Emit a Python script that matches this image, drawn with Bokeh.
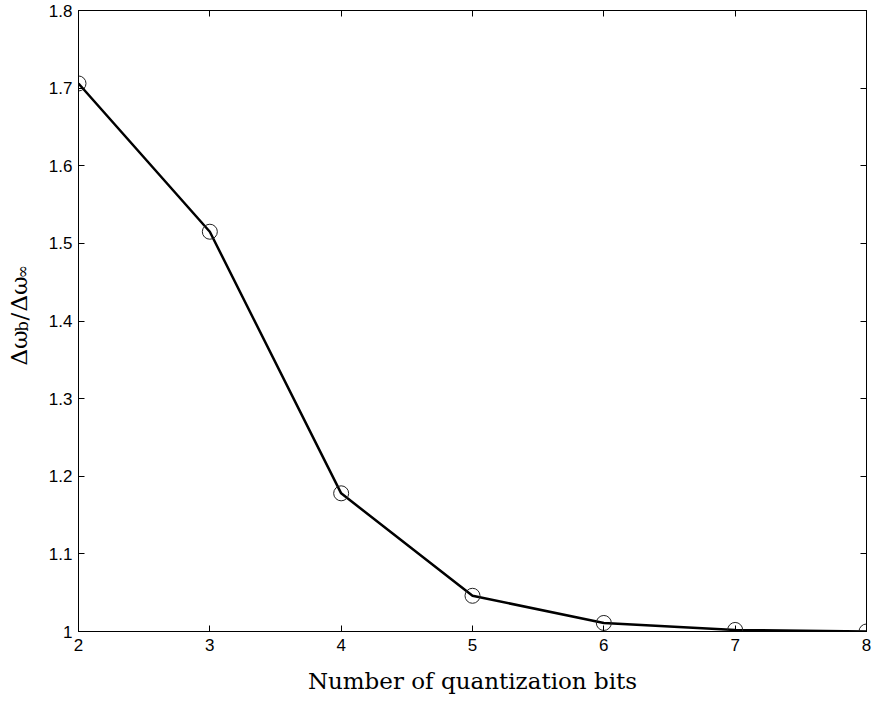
import math

from bokeh.core.properties import value
from bokeh.embed import file_html
from bokeh.layouts import row
from bokeh.models import (ColumnDataSource, CustomJSTickFormatter, FixedTicker,
                          LinearAxis, Range1d)
from bokeh.plotting import figure
from bokeh.resources import INLINE

# Relative bandwidth versus number of quantization bits
bits = [2, 3, 4, 5, 6, 7, 8]
ratio = [1.706, 1.515, 1.178, 1.046, 1.011, 1.002, 1.0]

x_ticks = [2, 3, 4, 5, 6, 7, 8]
y_ticks = [1.0, 1.1, 1.2, 1.3, 1.4, 1.5, 1.6, 1.7, 1.8]

TICK_FONT = "Liberation Sans"
LABEL_FONT = "DejaVu Serif"

LABEL_W = 40
W, H = 872, 704
TOP, BOTTOM = 10, 73

source = ColumnDataSource(data=dict(bits=bits, ratio=ratio))
y_range = Range1d(1.0, 1.8)

p = figure(
    width=W - LABEL_W, height=H,
    x_range=Range1d(2, 8), y_range=y_range,
    output_backend="svg", toolbar_location=None,
    min_border_left=38, min_border_right=6,
    min_border_top=TOP, min_border_bottom=BOTTOM,
    x_axis_location=None, y_axis_location=None,
)
p.grid.visible = False
p.outline_line_color = "black"
p.outline_line_width = 1
p.background_fill_color = "white"
p.border_fill_color = "white"

y_fmt = CustomJSTickFormatter(code="return tick.toFixed(1).replace(/\\.0$/, '');")
blank = CustomJSTickFormatter(code="return '';")


def style_axis(ax, labels=True):
    ax.axis_line_color = "black"
    ax.axis_line_width = 1
    ax.major_tick_in = 6
    ax.major_tick_out = 0
    ax.minor_tick_line_color = None
    ax.major_tick_line_color = "black"
    ax.major_label_text_font = TICK_FONT
    ax.major_label_text_font_size = "17px"
    ax.major_label_text_color = "black"
    if not labels:
        ax.major_label_standoff = 0


bottom = LinearAxis(ticker=FixedTicker(ticks=x_ticks))
style_axis(bottom)
bottom.major_label_standoff = 7
bottom.axis_label = "Number of quantization bits"
bottom.axis_label_text_font = LABEL_FONT
bottom.axis_label_text_font_style = "normal"
bottom.axis_label_text_font_size = "23px"
bottom.axis_label_text_color = "black"
bottom.axis_label_standoff = 14
p.add_layout(bottom, "below")

left = LinearAxis(ticker=FixedTicker(ticks=y_ticks), formatter=y_fmt)
style_axis(left)
left.major_label_standoff = 6
p.add_layout(left, "left")

top = LinearAxis(ticker=FixedTicker(ticks=x_ticks), formatter=blank)
style_axis(top, labels=False)
p.add_layout(top, "above")

right = LinearAxis(ticker=FixedTicker(ticks=y_ticks), formatter=blank)
style_axis(right, labels=False)
p.add_layout(right, "right")

p.line("bits", "ratio", source=source, line_color="black", line_width=2.5)
p.scatter("bits", "ratio", source=source, marker="circle", size=15,
          fill_color=None, line_color="#222222", line_width=1)

# Narrow strip holding the rotated y label  Δω_b / Δω_∞ ; it shares the
# vertical range of the plot so the pieces line up with the frame
lab = figure(
    width=LABEL_W, height=H, title=None,
    x_range=Range1d(0, LABEL_W), y_range=y_range,
    output_backend="svg", toolbar_location=None,
    min_border_left=0, min_border_right=0,
    min_border_top=TOP, min_border_bottom=BOTTOM,
    x_axis_location=None, y_axis_location=None,
)
lab.grid.visible = False
lab.outline_line_color = None
lab.background_fill_color = "white"
lab.border_fill_color = "white"

frame_h = H - TOP - BOTTOM


def screen_to_y(py):
    return 1.8 - (py - TOP) * 0.8 / frame_h


# (text, x anchor, start position from top, font size)
pieces = [
    ("Δω", 18, 365, "23px"),
    ("b", 22, 331, "16px"),
    ("/", 18, 320, "23px"),
    ("Δω", 18, 311, "23px"),
    ("∞", 22, 278, "16px"),
]
for txt, bx, start, size in pieces:
    lab.text(x=[bx], y=[screen_to_y(start)], text=[txt], angle=math.pi / 2,
             text_align="left", text_baseline="alphabetic",
             text_font=value(LABEL_FONT), text_font_size=value(size),
             text_color="black")

layout = row(lab, p, spacing=0)
open("out.html", "w").write(file_html(layout, INLINE))
